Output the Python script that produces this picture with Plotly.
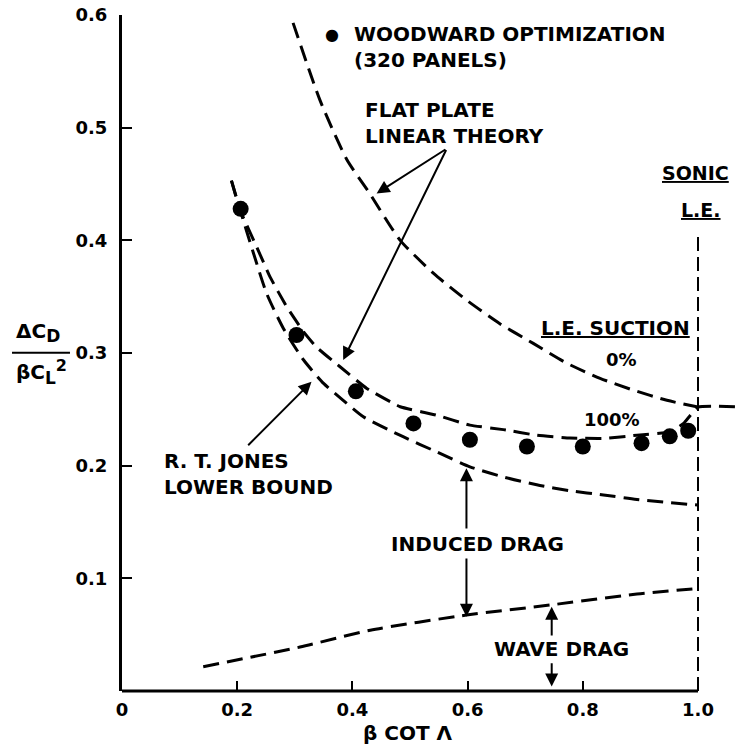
import plotly.graph_objects as go

# ---------------- data ----------------
# flat plate linear theory, 0% L.E. suction
pct0_x = [0.297, 0.344, 0.39, 0.43, 0.483, 0.541, 0.598, 0.656, 0.714, 0.772, 0.83, 0.888, 0.946, 1.0]
pct0_y = [0.593, 0.524, 0.472, 0.4416, 0.400, 0.3706, 0.347, 0.326, 0.3085, 0.291, 0.2775, 0.267, 0.258, 0.252]

# flat plate linear theory, 100% L.E. suction (continues flat past sonic L.E.)
pct100_x = [0.19, 0.205, 0.234, 0.257, 0.286, 0.315, 0.338, 0.378, 0.425, 0.483, 0.545, 0.604,
            0.662, 0.72, 0.778, 0.836, 0.894, 0.951, 0.975, 1.0, 1.077]
pct100_y = [0.453, 0.427, 0.394, 0.3676, 0.341, 0.319, 0.305, 0.288, 0.2686, 0.2523, 0.245, 0.236,
            0.232, 0.227, 0.2245, 0.2242, 0.227, 0.230, 0.2375, 0.252, 0.252]

# R. T. Jones lower bound
jones_x = [0.19, 0.205, 0.228, 0.251, 0.28, 0.315, 0.35, 0.384, 0.419, 0.488, 0.546, 0.604,
           0.662, 0.72, 0.778, 0.836, 0.894, 1.0]
jones_y = [0.453, 0.427, 0.389, 0.353, 0.322, 0.294, 0.273, 0.258, 0.2434, 0.2257, 0.2123, 0.199,
           0.190, 0.183, 0.1777, 0.174, 0.170, 0.165]

# wave drag
wave_x = [0.141, 0.309, 0.431, 0.598, 0.743, 0.894, 1.0]
wave_y = [0.0216, 0.039, 0.054, 0.0674, 0.0763, 0.086, 0.091]

# Woodward optimization (320 panels)
wood_x = [0.206, 0.303, 0.406, 0.506, 0.604, 0.703, 0.80, 0.902, 0.951, 0.983]
wood_y = [0.428, 0.316, 0.266, 0.2375, 0.223, 0.217, 0.217, 0.220, 0.226, 0.231]

# sonic leading edge line
sonic_x = [1.0, 1.0]
sonic_y = [0.0, 0.4076]

x_ticks = [0, 0.2, 0.4, 0.6, 0.8, 1.0]
x_ticktext = ["0", "0.2", "0.4", "0.6", "0.8", "1.0"]
y_ticks = [0.1, 0.2, 0.3, 0.4, 0.5, 0.6]
y_ticktext = ["0.1", "0.2", "0.3", "0.4", "0.5", "0.6"]

FONT = "DejaVu Sans"
DASH = "16px,8px"

fig = go.Figure()

def curve(x, y, width=3, dash=DASH, smoothing=0.6):
    fig.add_trace(go.Scatter(x=x, y=y, mode="lines",
                             line=dict(color="black", width=width, dash=dash,
                                       shape="spline", smoothing=smoothing),
                             showlegend=False, hoverinfo="skip"))

curve(pct0_x, pct0_y)
curve(pct100_x, pct100_y, smoothing=0.4)
curve(jones_x, jones_y)
curve(wave_x, wave_y)
fig.add_trace(go.Scatter(x=sonic_x, y=sonic_y, mode="lines",
                         line=dict(color="black", width=2, dash="14px,6px"),
                         showlegend=False, hoverinfo="skip"))
fig.add_trace(go.Scatter(x=wood_x, y=wood_y, mode="markers",
                         marker=dict(color="black", size=16),
                         cliponaxis=False, showlegend=False, hoverinfo="skip"))

ann = []

def text(x, y, t, size=20, xanchor="center", align="center", ref="x"):
    yref = "y" if ref == "x" else "paper"
    ann.append(dict(x=x, y=y, xref=ref, yref=yref, text=t, showarrow=False,
                    xanchor=xanchor, yanchor="middle", align=align,
                    font=dict(family=FONT, size=size, color="black", weight="bold")))

def arrow(hx, hy, tx, ty):
    ann.append(dict(x=hx, y=hy, ax=tx, ay=ty, xref="x", yref="y", axref="x", ayref="y",
                    text="", showarrow=True, arrowhead=2, arrowsize=1.3, arrowwidth=2,
                    arrowcolor="black", standoff=0, startstandoff=0))

text(0.3988, 0.572, "WOODWARD OPTIMIZATION<br>(320 PANELS)", xanchor="left", align="left")
text(0.364, 0.583, "●", size=16)
text(0.419, 0.5044, "FLAT PLATE<br>LINEAR THEORY", xanchor="left", align="left")
text(0.0689, 0.1924, "R. T. JONES<br>LOWER BOUND", xanchor="left", align="left")
text(0.617, 0.1304, "INDUCED DRAG")
text(0.763, 0.037, "WAVE DRAG")
text(0.850, 0.241, "100%", size=18)
text(0.8675, 0.2946, "0%", size=18)
text(0.857, 0.322, "<u>L.E. SUCTION</u>")
text(0.9948, 0.4596, "<u>SONIC</u>", size=19)
text(1.006, 0.4268, "<u>L.E.</u>", size=19)

# flat plate arrows
arrow(0.442, 0.4416, 0.564, 0.4815)
arrow(0.384, 0.2937, 0.564, 0.4815)
# R.T. Jones arrow
arrow(0.329, 0.2745, 0.2165, 0.2168)
# induced drag arrows
arrow(0.598, 0.1976, 0.598, 0.143)
arrow(0.598, 0.066, 0.598, 0.119)
# wave drag arrows
arrow(0.746, 0.0748, 0.746, 0.048)
arrow(0.746, 0.004, 0.746, 0.026)

# axis titles (paper coordinates, outside the plotting area)
text(0.4613, -0.0621, "β COT Λ", ref="paper")
text(-0.1355, 0.5296, "ΔC<sub><span style='font-size:17px'>D</span></sub>", size=20, ref="paper")
text(-0.1306, 0.4719,
     "βC<sub><span style='font-size:17px'>L</span></sub><sup><span style='font-size:16px'>2</span></sup>",
     size=20, ref="paper")

shapes = [
    # fraction bar of the y title
    dict(type="line", xref="paper", yref="paper", x0=-0.1774, x1=-0.0839, y0=0.5004, y1=0.5004,
         line=dict(color="black", width=2)),
    # x axis line (ends at 1.0)
    dict(type="line", xref="x", yref="paper", x0=0, x1=1.0, y0=0, y1=0,
         line=dict(color="black", width=3), layer="above"),
]

fig.update_layout(
    width=742, height=747,
    margin=dict(l=122, r=0, t=15, b=56),
    paper_bgcolor="white", plot_bgcolor="white",
    annotations=ann, shapes=shapes,
    xaxis=dict(range=[0, 620 / 576], tickvals=x_ticks, ticktext=x_ticktext,
               ticks="inside", ticklen=10, tickwidth=2, tickcolor="black",
               showline=False, showgrid=False, zeroline=False,
               ticklabelstandoff=6,
               tickfont=dict(family=FONT, size=18, color="black", weight="bold")),
    yaxis=dict(range=[0, 0.6], tickvals=y_ticks, ticktext=y_ticktext,
               ticks="inside", ticklen=10, tickwidth=2, tickcolor="black",
               showline=True, linewidth=3, linecolor="black",
               showgrid=False, zeroline=False, ticklabelstandoff=8,
               tickfont=dict(family=FONT, size=18, color="black", weight="bold")),
)

fig.write_html("out.html", config={"displayModeBar": False},
               post_script="document.body.style.margin='0';")
